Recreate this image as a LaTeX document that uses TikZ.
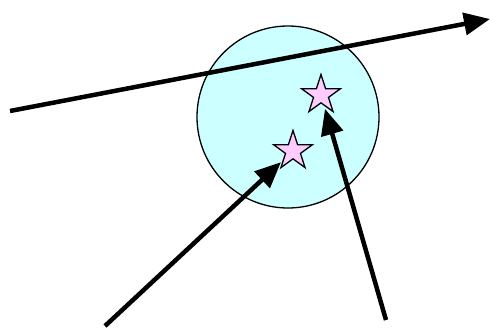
\documentclass[tikz,border=0pt]{standalone}
\usetikzlibrary{shapes.geometric,arrows.meta}
\definecolor{cyanfill}{HTML}{CCFFFF}
\definecolor{pinkfill}{HTML}{FFCCFF}
\begin{document}
\begin{tikzpicture}[x=1pt,y=-1pt,
  bigarrow/.style={line width=4.5pt,-{Triangle[length=26pt,width=22pt]}},
  starnode/.style={star,star points=5,star point ratio=2.618,minimum size=41pt,inner sep=0pt,draw=black,line width=1.3pt,fill=pinkfill}]
\useasboundingbox (0,0) rectangle (491,329);
\node[circle,draw=black,line width=1.3pt,fill=cyanfill,minimum size=182pt,inner sep=0pt] (disc) at (288,117) {};
\node[starnode] (s1) at (321,95) {};
\node[starnode] (s2) at (293,151) {};
\coordinate (l0) at (10,111);
\coordinate (l1) at (490,19);
\coordinate (a0) at (105,326);
\coordinate (b0) at (386,320);
\draw[bigarrow] (l0) -- (l1);
\draw[bigarrow,shorten >=2pt] (a0) -- (s2);
\draw[bigarrow,shorten >=3pt] (b0) -- (s1);
\end{tikzpicture}
\end{document}
